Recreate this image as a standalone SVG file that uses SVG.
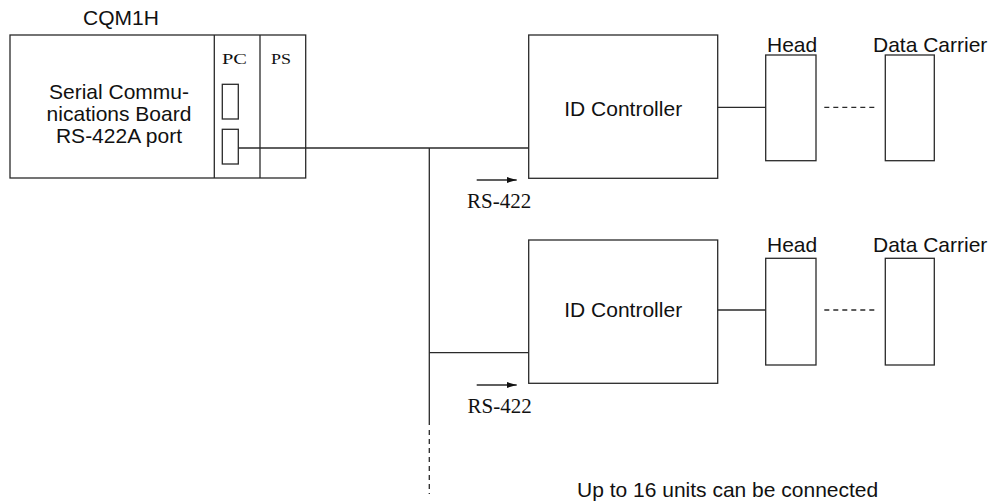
<svg xmlns="http://www.w3.org/2000/svg" width="992" height="503" viewBox="0 0 992 503">
<style>
.box{fill:#fff;stroke:#2a2a2a;stroke-width:1.3}
.ln{fill:none;stroke:#2a2a2a;stroke-width:1.3}
.dash{fill:none;stroke:#2a2a2a;stroke-width:1.3;stroke-dasharray:5 4}
.sans{font-family:"Liberation Sans",Arial,sans-serif;font-size:21px;fill:#111}
.serif{font-family:"Liberation Serif","Times New Roman",serif;fill:#111}
</style>
<defs>
<marker id="arr" viewBox="0 0 10 6" refX="10" refY="3" markerWidth="10" markerHeight="6" markerUnits="userSpaceOnUse" orient="auto">
<path d="M0,0 L10,3 L0,6 Z" fill="#111"/>
</marker>
</defs>
<g id="cqm1h">
<text class="sans" x="83" y="25">CQM1H</text>
<rect class="box" x="10" y="35" width="295.7" height="143"/>
<line class="ln" x1="214.3" y1="35" x2="214.3" y2="178"/>
<line class="ln" x1="260" y1="35" x2="260" y2="178"/>
<text class="sans" x="119" y="99" text-anchor="middle">Serial Commu-</text>
<text class="sans" x="119" y="121" text-anchor="middle">nications Board</text>
<text class="sans" x="119" y="143" text-anchor="middle">RS-422A port</text>
<text class="serif" x="222" y="64" font-size="15" textLength="25" lengthAdjust="spacingAndGlyphs">PC</text>
<text class="serif" x="271" y="64" font-size="15" textLength="20" lengthAdjust="spacingAndGlyphs">PS</text>
<rect class="box" x="222.3" y="84.3" width="16" height="34.7"/>
<rect class="box" x="222.3" y="129.3" width="16" height="34.7"/>
</g>
<g id="idc1">
<rect class="box" x="528.7" y="35" width="189" height="143.3"/>
<text class="sans" x="623.2" y="116" text-anchor="middle">ID Controller</text>
</g>
<g id="head1">
<text class="sans" x="767" y="51.7">Head</text>
<rect class="box" x="765.7" y="55" width="50.3" height="105.7"/>
</g>
<g id="carrier1">
<text class="sans" x="873" y="51.7">Data Carrier</text>
<rect class="box" x="885.3" y="55" width="49" height="105.7"/>
</g>
<g id="idc2">
<rect class="box" x="528.7" y="240" width="189" height="143.3"/>
<text class="sans" x="623.2" y="316.7" text-anchor="middle">ID Controller</text>
</g>
<g id="head2">
<text class="sans" x="767" y="251.7">Head</text>
<rect class="box" x="765.7" y="258.3" width="50.3" height="106.7"/>
</g>
<g id="carrier2">
<text class="sans" x="873" y="251.7">Data Carrier</text>
<rect class="box" x="885.3" y="258.3" width="49" height="106.7"/>
</g>
<g id="connectors">
<line class="ln" x1="238.3" y1="148" x2="528.7" y2="148"/>
<line class="ln" x1="429.3" y1="148" x2="429.3" y2="425"/>
<line class="dash" x1="429.3" y1="430" x2="429.3" y2="494"/>
<line class="ln" x1="429.3" y1="352.7" x2="528.7" y2="352.7"/>
<line class="ln" x1="717.7" y1="107.3" x2="765.7" y2="107.3"/>
<line class="dash" x1="824.3" y1="107.3" x2="877" y2="107.3"/>
<line class="ln" x1="717.7" y1="310" x2="765.7" y2="310"/>
<line class="dash" x1="824.3" y1="310" x2="877" y2="310"/>
<line class="ln" x1="476.7" y1="180" x2="516.7" y2="180" marker-end="url(#arr)" stroke-width="1"/>
<line class="ln" x1="476.7" y1="385" x2="516.7" y2="385" marker-end="url(#arr)" stroke-width="1"/>
</g>
<text class="serif" x="467" y="208" font-size="21">RS-422</text>
<text class="serif" x="467.5" y="412.7" font-size="21">RS-422</text>
<text class="sans" x="577" y="497.3">Up to 16 units can be connected</text>
</svg>
